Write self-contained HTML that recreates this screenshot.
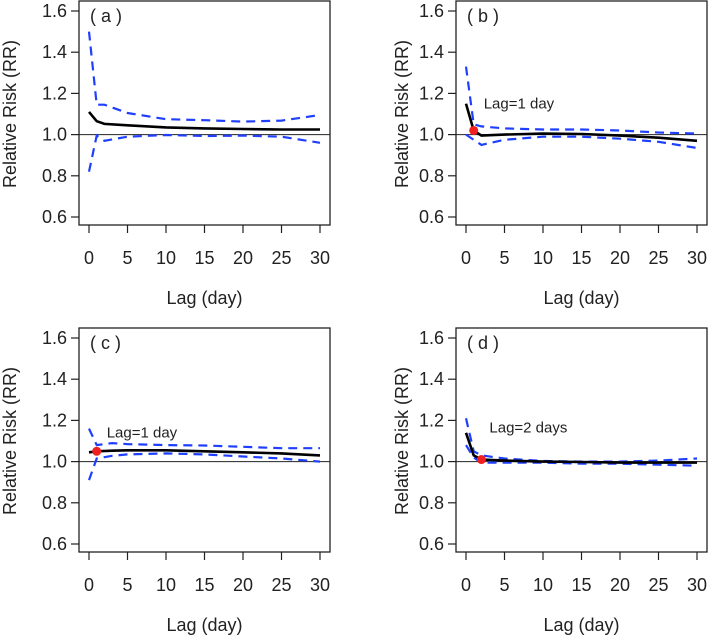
<!DOCTYPE html>
<html><head><meta charset="utf-8"><style>
body{margin:0;background:#fff}
svg text{font-family:"Liberation Sans",sans-serif;fill:#222}
</style></head><body>
<svg id="c" width="708" height="636" xmlns="http://www.w3.org/2000/svg"></svg>
<script>
const lagTicks=[0,5,10,15,20,25,30];
const rrTicks=[0.6,0.8,1.0,1.2,1.4,1.6];
const panelLabels=["a","b","c","d"];
const aLags=[0,1,2,5,10,15,20,25,30];
const aMean=[1.11,1.065,1.052,1.045,1.035,1.03,1.027,1.025,1.025];
const aUpper=[1.5,1.145,1.145,1.105,1.075,1.07,1.063,1.068,1.095];
const aLower=[0.82,0.995,0.97,0.99,0.998,0.993,0.995,0.99,0.96];
const bLags=[0,1,2,5,10,15,20,25,30];
const bMean=[1.15,1.02,0.995,1.0,1.005,1.003,0.995,0.985,0.97];
const bUpper=[1.33,1.05,1.04,1.03,1.025,1.025,1.02,1.01,1.005];
const bLower=[1.0,0.975,0.95,0.975,0.99,0.99,0.98,0.965,0.935];
const cLags=[0,1,3,5,10,15,20,25,30];
const cMean=[1.045,1.05,1.053,1.055,1.055,1.05,1.045,1.04,1.03];
const cUpper=[1.16,1.08,1.09,1.085,1.08,1.078,1.072,1.065,1.065];
const cLower=[0.91,1.015,1.028,1.035,1.04,1.035,1.025,1.015,1.0];
const dLags=[0,1,2,5,10,15,20,25,30];
const dMean=[1.14,1.03,1.01,1.005,1.0,0.998,0.995,0.995,0.995];
const dUpper=[1.21,1.05,1.03,1.015,1.003,1.0,1.0,1.005,1.015];
const dLower=[1.08,1.02,0.995,0.995,0.995,0.99,0.99,0.985,0.98];
const highlightLag=[null,1,1,2];
const highlightText=[null,"Lag=1 day","Lag=1 day","Lag=2 days"];

const NS="http://www.w3.org/2000/svg";
const svg=document.getElementById('c');
function mk(tag,attrs,parent){const e=document.createElementNS(NS,tag);for(const k in attrs)e.setAttribute(k,attrs[k]);(parent||svg).appendChild(e);return e;}
const panels=[[aLags,aMean,aUpper,aLower],[bLags,bMean,bUpper,bLower],[cLags,cMean,cUpper,cLower],[dLags,dMean,dUpper,dLower]];
panels.forEach((p,i)=>{
  const ox=(i%2)*377, oy=Math.floor(i/2)*327;
  const g=mk('g',{});
  
  
  const xs=v=>ox+89+(v/30)*231;
  const ys=v=>oy+11+(1.6-v)/1.0*206;
  const L=ox+79,R=ox+330,T=oy+1,B=oy+225;
  const box=mk('rect',{x:L,y:T,width:R-L,height:B-T,fill:'none',stroke:'#222','stroke-width':1.3},g);
  
  rrTicks.forEach(t=>{
    mk('line',{x1:L-8,x2:L,y1:ys(t),y2:ys(t),stroke:'#222','stroke-width':1.2},g);
    const tx=mk('text',{x:L-12,y:ys(t)+6,'text-anchor':'end','font-size':18},g);
    tx.textContent=t.toFixed(1);
    
  });
  lagTicks.forEach(t=>{
    mk('line',{x1:xs(t),x2:xs(t),y1:B,y2:B+8,stroke:'#222','stroke-width':1.2},g);
    const tx=mk('text',{x:xs(t),y:oy+264,'text-anchor':'middle','font-size':18},g);
    tx.textContent=t;
    
  });
  const xl=mk('text',{x:(L+R)/2,y:oy+304,'text-anchor':'middle','font-size':18},g);
  xl.textContent='Lag (day)';
  
  const yl=mk('text',{x:0,y:0,'text-anchor':'middle','font-size':18,transform:`translate(${ox+(i%2?31:16)},${oy+114}) rotate(-90)`},g);
  yl.textContent='Relative Risk (RR)';
  
  const pl=mk('text',{x:L+11,y:oy+22,'font-size':18,'xml:space':'preserve'},g);
  pl.textContent='( '+panelLabels[i]+' )';
  
  const ref=mk('line',{x1:L,x2:R,y1:ys(1),y2:ys(1),stroke:'#222','stroke-width':1},g);
  
  const [lags,mean,up,lo]=p;
  const path=arr=>arr.map((v,k)=>(k?'L':'M')+xs(lags[k]).toFixed(1)+','+ys(v).toFixed(1)).join('');
  const u=mk('path',{d:path(up),fill:'none',stroke:'#1f3fff','stroke-width':2.2,'stroke-dasharray':'9,6'},g);
  
  const l=mk('path',{d:path(lo),fill:'none',stroke:'#1f3fff','stroke-width':2.2,'stroke-dasharray':'9,6'},g);
  
  const m=mk('path',{d:path(mean),fill:'none',stroke:'#000','stroke-width':2.6},g);
  
  if(highlightLag[i]!==null){
    const k=lags.indexOf(highlightLag[i]);
    const c=mk('circle',{cx:xs(lags[k]),cy:ys(mean[k]),r:4.5,fill:'#f02020'},g);
    
    const ht=mk('text',{x:xs(lags[k])+(i===3?8:10),y:ys(mean[k])-(i===2?14:22)-(i===3?5:0),'font-size':15},g);
    ht.textContent=highlightText[i];
    
  }
});
</script>
</body></html>
